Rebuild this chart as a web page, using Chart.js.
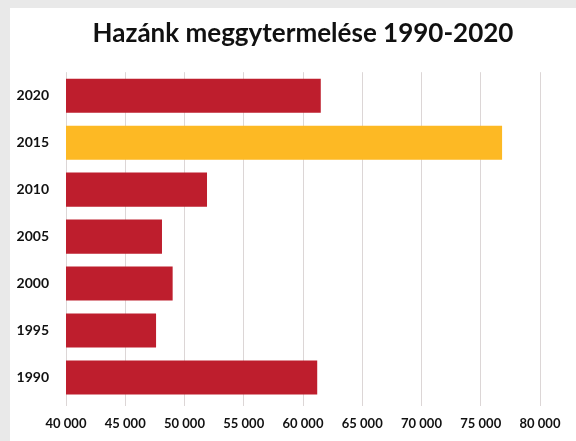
<!DOCTYPE html>
<html lang="hu">
<head>
  <meta charset="UTF-8">
  <title>Hazánk meggytermelése 1990-2020</title>
  <script src="https://cdn.jsdelivr.net/npm/chart.js"></script>
  <style>
    html, body { margin: 0; padding: 0; }
    body { width: 576px; height: 441px; background: #e9e9e9; position: relative; overflow: hidden; }
    .kartya { position: absolute; left: 10px; top: 8px; width: 566px; height: 433px; background: #FFFFFF; }
  </style>
</head>
<body>
  <div class="kartya"><canvas id="grafikon" width="566" height="433"></canvas></div>

  <script>
    const evek = ["2020", "2015", "2010", "2005", "2000", "1995", "1990"];
    const termeles = [61500, 76800, 51900, 48100, 49000, 47600, 61200]; // tonna
    const kiemeltEv = "2015";
    const xMin = 40000, xMax = 80000, xLepes = 5000;

    const piros = "#BE1E2D";
    const sarga = "#FDB924";
    const szinek = evek.map(ev => ev === kiemeltEv ? sarga : piros);

    function ezres(v) {
      return String(v).replace(/\B(?=(\d{3})+(?!\d))/g, " ");
    }

    new Chart(document.getElementById("grafikon"), {
      type: "bar",
      data: {
        labels: evek,
        datasets: [{
          data: termeles,
          backgroundColor: szinek,
          barPercentage: 0.725,
          categoryPercentage: 1
        }]
      },
      options: {
        indexAxis: "y",
        responsive: false,
        animation: false,
        layout: { padding: { left: 0, right: 36, top: 0, bottom: 0 } },
        plugins: {
          legend: { display: false },
          tooltip: { enabled: false },
          title: {
            display: true,
            fullSize: false,
            text: "Hazánk meggytermelése 1990-2020",
            color: "#111",
            font: { family: "Lato", size: 26, weight: "bold" },
            padding: { top: 10, bottom: 23 }
          }
        },
        scales: {
          x: {
            min: xMin,
            max: xMax,
            ticks: {
              stepSize: xLepes,
              color: "#111",
              padding: 10,
              maxRotation: 0,
              font: { family: "Lato", size: 13, weight: "bold" },
              callback: v => ezres(v)
            },
            grid: { color: "#dcd6d6", tickLength: 5 },
            border: { display: false },
            afterFit: s => { s.height = 40; }
          },
          y: {
            ticks: {
              color: "#111",
              padding: 9,
              font: { family: "Lato", size: 14, weight: "bold" }
            },
            grid: { display: false },
            border: { display: false },
            afterFit: s => { s.width = 56; }
          }
        }
      }
    });
  </script>
</body>
</html>
